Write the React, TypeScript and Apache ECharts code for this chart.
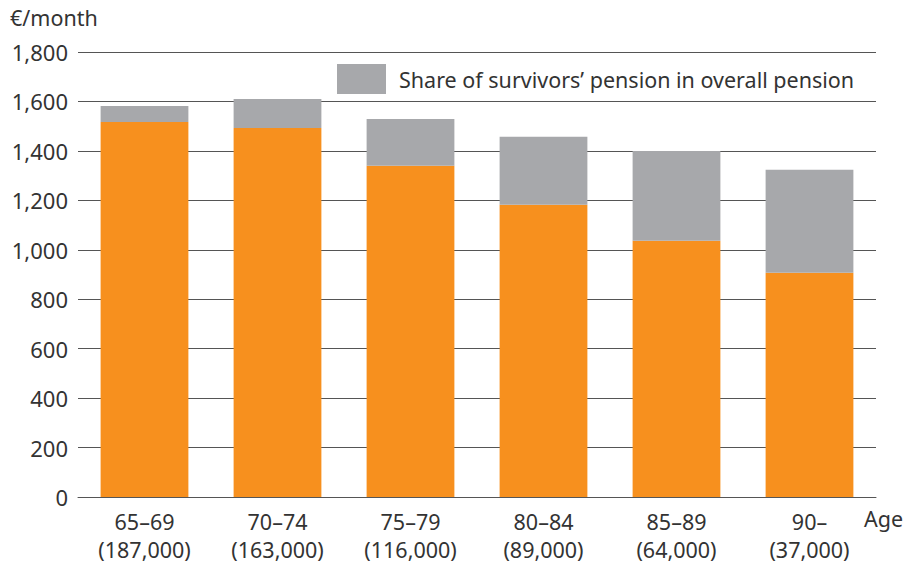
import React, { useEffect, useRef } from "react";
import * as echarts from "echarts";

const categories = ["65–69\n(187,000)", "70–74\n(163,000)", "75–79\n(116,000)", "80–84\n(89,000)", "85–89\n(64,000)", "90–\n(37,000)"];
const ownPension = [1517, 1493, 1340, 1182, 1037, 907];
const survivorsShare = [65, 117, 189, 275, 363, 417];
const legendLabel = "Share of survivors’ pension in overall pension";
const FONT = "Noto Sans";

export default function App() {
  const ref = useRef<HTMLDivElement>(null);
  useEffect(() => {
    const chart = echarts.init(ref.current!, null, { renderer: "svg" });
    chart.setOption({
      animation: false,
      textStyle: { fontFamily: FONT },
      grid: { left: 78, right: 28, top: 52, bottom: 65 },
      legend: {
        data: [legendLabel],
        left: 337,
        top: 64,
        padding: 0,
        itemWidth: 49,
        itemHeight: 30,
        icon: "rect",
        textStyle: { fontSize: 21.5, color: "#333", fontFamily: FONT, padding: [0, 0, 0, 8] },
      },
      xAxis: {
        type: "category",
        data: categories,
        axisLine: { show: true, lineStyle: { color: "#555", width: 1 } },
        axisTick: { show: false },
        axisLabel: { fontSize: 21.5, color: "#333", lineHeight: 28, margin: 10, fontFamily: FONT },
      },
      yAxis: {
        type: "value",
        min: 0,
        max: 1800,
        interval: 200,
        name: "€/month",
        nameLocation: "end",
        nameGap: 24,
        nameTextStyle: { fontSize: 21.5, color: "#333", align: "left", padding: [0, 0, 0, -68], fontFamily: FONT },
        axisLine: { show: false },
        axisTick: { show: false },
        axisLabel: {
          fontSize: 22,
          color: "#333",
          margin: 10,
          fontFamily: FONT,
          formatter: (v: number) => v.toLocaleString("en-US"),
        },
        splitLine: { lineStyle: { color: "#555", width: 1 } },
      },
      series: [
        {
          name: "Own pension",
          type: "bar",
          stack: "total",
          data: ownPension,
          barWidth: "66%",
          itemStyle: { color: "#F7901E" },
        },
        {
          name: legendLabel,
          type: "bar",
          stack: "total",
          data: survivorsShare,
          barWidth: "66%",
          itemStyle: { color: "#A7A8AB" },
        },
      ],
      graphic: [
        {
          type: "text",
          left: 864,
          top: 507,
          style: { text: "Age", fontSize: 21.5, fill: "#333", fontFamily: FONT },
        },
      ],
    });
    return () => chart.dispose();
  }, []);
  return <div ref={ref} style={{ width: 904, height: 563, position: "absolute", left: 0, top: 0 }} />;
}
